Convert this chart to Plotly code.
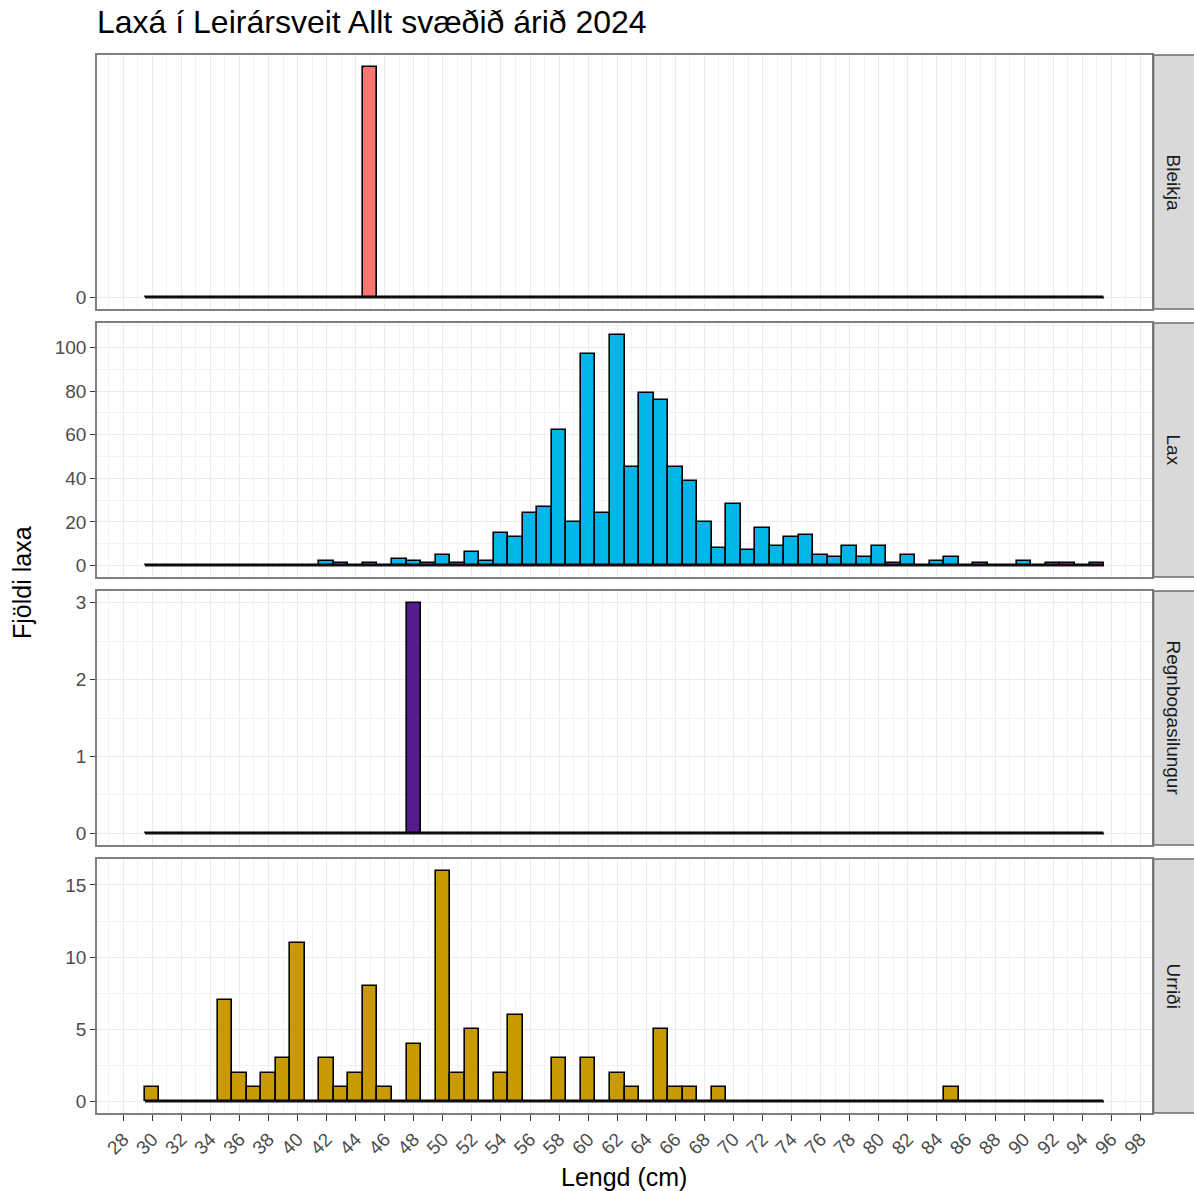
import plotly.graph_objects as go
from plotly.subplots import make_subplots

# ---------------- data ----------------
lengths = [30, 31, 32, 33, 34, 35, 36, 37, 38, 39, 40, 41, 42, 43, 44, 45, 46, 47, 48, 49,
           50, 51, 52, 53, 54, 55, 56, 57, 58, 59, 60, 61, 62, 63, 64, 65, 66, 67, 68, 69,
           70, 71, 72, 73, 74, 75, 76, 77, 78, 79, 80, 81, 82, 83, 84, 85, 86, 87, 88, 89,
           90, 91, 92, 93, 94, 95]

species = ["Bleikja", "Lax", "Regnbogasilungur", "Urriði"]

bleikja = [0, 0, 0, 0, 0, 0, 0, 0, 0, 0, 0, 0, 0, 0, 0, 1, 0, 0, 0, 0,
           0, 0, 0, 0, 0, 0, 0, 0, 0, 0, 0, 0, 0, 0, 0, 0, 0, 0, 0, 0,
           0, 0, 0, 0, 0, 0, 0, 0, 0, 0, 0, 0, 0, 0, 0, 0, 0, 0, 0, 0,
           0, 0, 0, 0, 0, 0]

lax = [0, 0, 0, 0, 0, 0, 0, 0, 0, 0, 0, 0, 2, 1, 0, 1, 0, 3, 2, 1,
       5, 1, 6, 2, 15, 13, 24, 27, 62, 20, 97, 24, 106, 45, 79, 76, 45, 39, 20, 8,
       28, 7, 17, 9, 13, 14, 5, 4, 9, 4, 9, 1, 5, 0, 2, 4, 0, 1, 0, 0,
       2, 0, 1, 1, 0, 1]

regnbogasilungur = [0, 0, 0, 0, 0, 0, 0, 0, 0, 0, 0, 0, 0, 0, 0, 0, 0, 0, 3, 0,
                    0, 0, 0, 0, 0, 0, 0, 0, 0, 0, 0, 0, 0, 0, 0, 0, 0, 0, 0, 0,
                    0, 0, 0, 0, 0, 0, 0, 0, 0, 0, 0, 0, 0, 0, 0, 0, 0, 0, 0, 0,
                    0, 0, 0, 0, 0, 0]

urridi = [1, 0, 0, 0, 0, 7, 2, 1, 2, 3, 11, 0, 3, 1, 2, 8, 1, 0, 4, 0,
          16, 2, 5, 0, 2, 6, 0, 0, 3, 0, 3, 0, 2, 1, 0, 5, 1, 1, 0, 1,
          0, 0, 0, 0, 0, 0, 0, 0, 0, 0, 0, 0, 0, 0, 0, 1, 0, 0, 0, 0,
          0, 0, 0, 0, 0, 0]

counts = [bleikja, lax, regnbogasilungur, urridi]
colors = ["#F8766D", "#00B5E8", "#551C8B", "#C99A00"]

x_ticks = [28, 30, 32, 34, 36, 38, 40, 42, 44, 46, 48, 50, 52, 54, 56, 58, 60, 62,
           64, 66, 68, 70, 72, 74, 76, 78, 80, 82, 84, 86, 88, 90, 92, 94, 96, 98]
y_ticks = [[0], [0, 20, 40, 60, 80, 100], [0, 1, 2, 3], [0, 5, 10, 15]]
y_minor = [None, 10, 0.5, 2.5]

title = "Laxá í Leirársveit Allt svæðið árið 2024"
x_title = "Lengd (cm)"
y_title = "Fjöldi laxa"

# ---------------- figure ----------------
FONT = "Liberation Sans, Arial, sans-serif"
W, H = 1194, 1191
ML, MR, MT, MB = 97, 42, 55, 78
plot_h = H - MT - MB
plot_w = W - ML - MR
gap = 14

fig = make_subplots(rows=4, cols=1, shared_xaxes=True,
                    vertical_spacing=gap / plot_h)

lo = min(lengths) - 0.5
hi = max(lengths) + 0.5
xpad = 0.05 * (hi - lo)
xrange = [lo - xpad, hi + xpad]

for i, (sp, c, col) in enumerate(zip(species, counts, colors)):
    r = i + 1
    # baseline of zero-count bins (ggplot draws them as flat outlines)
    fig.add_trace(go.Scatter(x=[lo, hi], y=[0, 0], mode="lines",
                             line=dict(color="#111111", width=2.0),
                             showlegend=False, hoverinfo="skip"), row=r, col=1)
    fig.add_trace(go.Bar(x=lengths, y=c, width=1,
                         marker=dict(color=col, line=dict(color="black", width=1.6)),
                         showlegend=False, name=sp), row=r, col=1)
    ymax = max(c)
    ypad = 0.05 * ymax
    yax = dict(range=[-ypad, ymax + ypad], tickmode="array", tickvals=y_ticks[i],
               ticks="outside", ticklen=5, tickcolor="#333333", tickwidth=1.2,
               tickfont=dict(family=FONT, size=19, color="#4D4D4D"),
               showgrid=True, gridcolor="#EBEBEB", gridwidth=1.2,
               zeroline=False, showline=True, mirror=True,
               linecolor="#7F7F7F", linewidth=1.6)
    if y_minor[i] is not None:
        yax["minor"] = dict(dtick=y_minor[i], tick0=0, showgrid=True,
                            gridcolor="#F2F2F2", gridwidth=0.8, ticks="")
    fig.update_yaxes(row=r, col=1, **yax)

    xax = dict(range=xrange, tickmode="array", tickvals=x_ticks,
               showgrid=True, gridcolor="#EBEBEB", gridwidth=1.2,
               minor=dict(dtick=1, tick0=0, showgrid=True, gridcolor="#F2F2F2",
                          gridwidth=0.8, ticks=""),
               zeroline=False, showline=True, mirror=True,
               linecolor="#7F7F7F", linewidth=1.6)
    if r == 4:
        xax.update(ticks="outside", ticklen=6, tickcolor="#333333", tickwidth=1.2,
                   tickangle=-45, showticklabels=True,
                   tickfont=dict(family=FONT, size=19, color="#4D4D4D"))
    else:
        xax.update(ticks="", showticklabels=False)
    fig.update_xaxes(row=r, col=1, **xax)

    # facet strip
    yref = "y domain" if r == 1 else f"y{r} domain"
    fig.add_shape(type="rect", xref="paper", yref=yref,
                  x0=1 + 1.5 / plot_w, x1=1 + 44 / plot_w, y0=0, y1=1,
                  fillcolor="#D9D9D9", line=dict(color="#6E6E6E", width=1.6),
                  layer="above")
    fig.add_annotation(xref="paper", yref=yref, x=1 + 21.5 / plot_w, y=0.5,
                       text=sp, textangle=90, showarrow=False,
                       font=dict(family=FONT, size=19, color="#1A1A1A"),
                       xanchor="center", yanchor="middle")

fig.add_annotation(xref="paper", yref="paper", x=(624 - ML) / plot_w,
                   y=(H - MB - 1177) / plot_h, text=x_title, showarrow=False,
                   font=dict(family=FONT, size=25, color="black"),
                   xanchor="center", yanchor="middle")
fig.add_annotation(xref="paper", yref="paper", x=(22 - ML) / plot_w,
                   y=(H - MB - 583) / plot_h, text=y_title, showarrow=False,
                   textangle=-90,
                   font=dict(family=FONT, size=25, color="black"),
                   xanchor="center", yanchor="middle")

fig.update_layout(
    width=W, height=H,
    margin=dict(l=ML, r=MR, t=MT, b=MB, autoexpand=False),
    paper_bgcolor="white", plot_bgcolor="white",
    bargap=0, barmode="overlay",
    title=dict(text=title, x=ML / W, xanchor="left", xref="container",
               y=1 - 22 / H, yanchor="middle", yref="container",
               font=dict(family=FONT, size=32, color="black")),
    showlegend=False,
)

fig.write_html("out.html",
               config={"displayModeBar": False},
               post_script="document.body.style.margin='0';"
                           "document.body.style.overflow='hidden';")
